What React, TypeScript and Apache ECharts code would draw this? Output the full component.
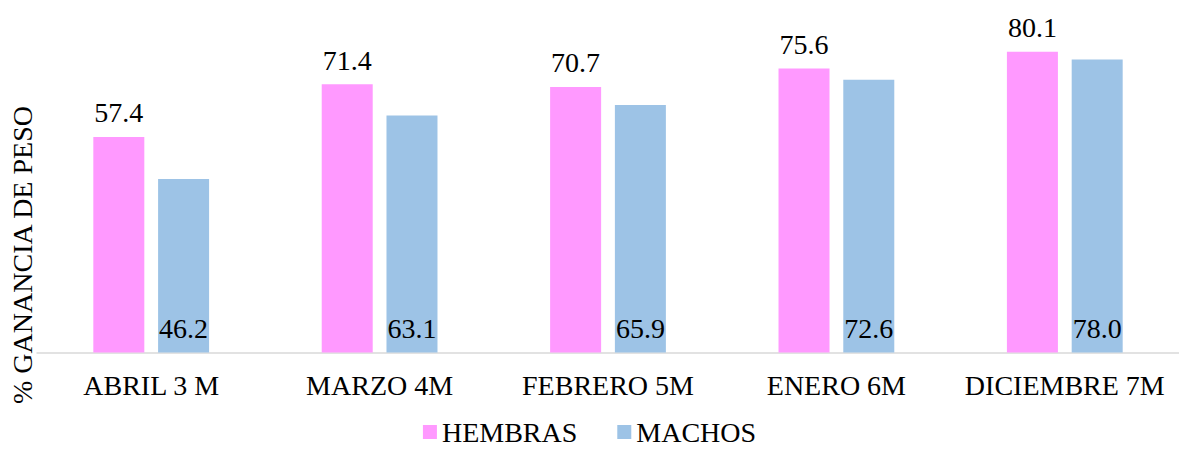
import React, { useEffect, useRef } from "react";
import * as echarts from "echarts";

const categories = ["ABRIL 3 M", "MARZO 4M", "FEBRERO 5M", "ENERO 6M", "DICIEMBRE 7M"];
const hembras = [57.4, 71.4, 70.7, 75.6, 80.1];
const machos = [46.2, 63.1, 65.9, 72.6, 78.0];
const seriesNames = ["HEMBRAS", "MACHOS"];
const yAxisTitle = "% GANANCIA DE PESO";

const FONT = "Liberation Serif";

export default function App() {
  const ref = useRef<HTMLDivElement>(null);
  useEffect(() => {
    if (!ref.current) return;
    const chart = echarts.init(ref.current, null, { renderer: "svg" });
    chart.setOption({
      animation: false,
      grid: { left: 37, right: -6, top: 14.5, bottom: 100.5, containLabel: false },
      legend: {
        data: seriesNames,
        bottom: 2,
        left: "center",
        itemWidth: 14,
        itemHeight: 14,
        itemGap: 40,
        icon: "rect",
        textStyle: { fontFamily: FONT, fontSize: 28, color: "#000" },
      },
      graphic: [
        {
          type: "text",
          x: 22,
          y: 255,
          rotation: Math.PI / 2,
          style: {
            text: yAxisTitle,
            fontFamily: FONT,
            fontSize: 28,
            fill: "#000",
            align: "center",
            verticalAlign: "middle",
          },
        },
      ],
      xAxis: {
        type: "category",
        data: categories,
        axisLine: { show: true, lineStyle: { color: "#d9d9d9", width: 1.5 } },
        axisTick: { show: false },
        axisLabel: { fontFamily: FONT, fontSize: 28, color: "#000", margin: 19, interval: 0 },
      },
      yAxis: {
        type: "value",
        min: 0,
        max: 90,
        show: false,
        splitLine: { show: false },
      },
      series: [
        {
          name: seriesNames[0],
          type: "bar",
          data: hembras,
          barWidth: 51,
          barGap: "27%",
          itemStyle: { color: "#FF99FF" },
          label: {
            show: true,
            position: "top",
            distance: 10,
            fontFamily: FONT,
            fontSize: 28,
            color: "#000",
            formatter: (p: any) => p.value.toFixed(1),
          },
        },
        {
          name: seriesNames[1],
          type: "bar",
          data: machos,
          barWidth: 51,
          itemStyle: { color: "#9DC3E6" },
          label: {
            show: true,
            position: "insideBottom",
            distance: 10,
            fontFamily: FONT,
            fontSize: 28,
            color: "#000",
            formatter: (p: any) => p.value.toFixed(1),
          },
        },
      ],
    });
    return () => chart.dispose();
  }, []);
  return <div ref={ref} style={{ width: 1179, height: 453, position: "absolute", left: 0, top: 0 }} />;
}
